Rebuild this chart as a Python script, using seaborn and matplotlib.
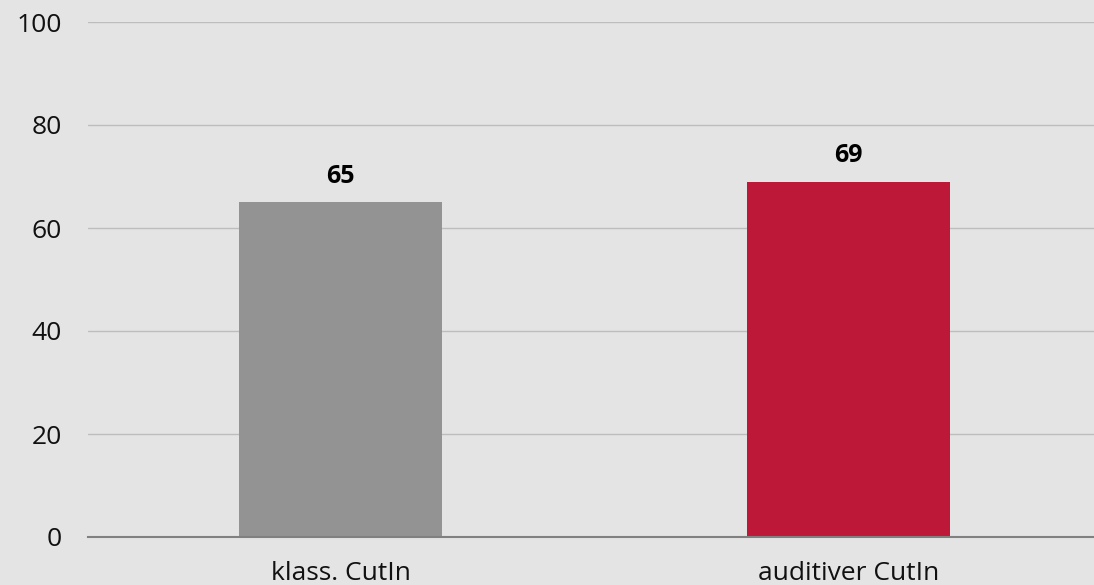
import matplotlib
matplotlib.use("Agg")
import matplotlib.pyplot as plt
import seaborn as sns
import pandas as pd

categories = ["klass. CutIn", "auditiver CutIn"]
values = [65, 69]
colors = ["#939393", "#BE1839"]
yticks = [0, 20, 40, 60, 80, 100]

sns.set_theme(style="white")
plt.rcParams['font.family'] = ['Open Sans', 'DejaVu Sans']

df = pd.DataFrame({"cat": categories, "val": values})

fig = plt.figure(figsize=(10.94, 5.85), dpi=100)
fig.patch.set_facecolor("#E4E4E4")
ax = fig.add_axes([88/1094, 1-537/585, 1-88/1094, (537-22)/585])
ax.set_facecolor("#E4E4E4")

sns.barplot(data=df, x="cat", y="val", hue="cat", palette=colors, width=0.4,
            legend=False, ax=ax, saturation=1, zorder=3, linewidth=0)

ax.set_ylim(0, 100)
ax.set_xlim(-0.497, 1.483)
ax.set_yticks(yticks)
ax.set_yticklabels([str(t) for t in yticks])
ax.grid(axis="y", color="#BDBDBD", linewidth=1, zorder=0)
ax.set_axisbelow(True)
for s in ["top", "right", "left"]:
    ax.spines[s].set_visible(False)
ax.spines["bottom"].set_color("#808080")
ax.spines["bottom"].set_linewidth(1.5)
ax.spines["bottom"].set_zorder(4)
ax.tick_params(axis="both", length=0, labelsize=19, colors="#111111")
ax.tick_params(axis="x", pad=17)
ax.tick_params(axis="y", pad=19)
ax.set_xlabel("")
ax.set_ylabel("")

for i, v in enumerate(values):
    ax.text(i, v + 5.0, f"{v}", ha="center", va="center", fontsize=18,
            fontweight="bold", color="#000000")

fig.savefig("out.png", dpi=100, facecolor=fig.get_facecolor())
